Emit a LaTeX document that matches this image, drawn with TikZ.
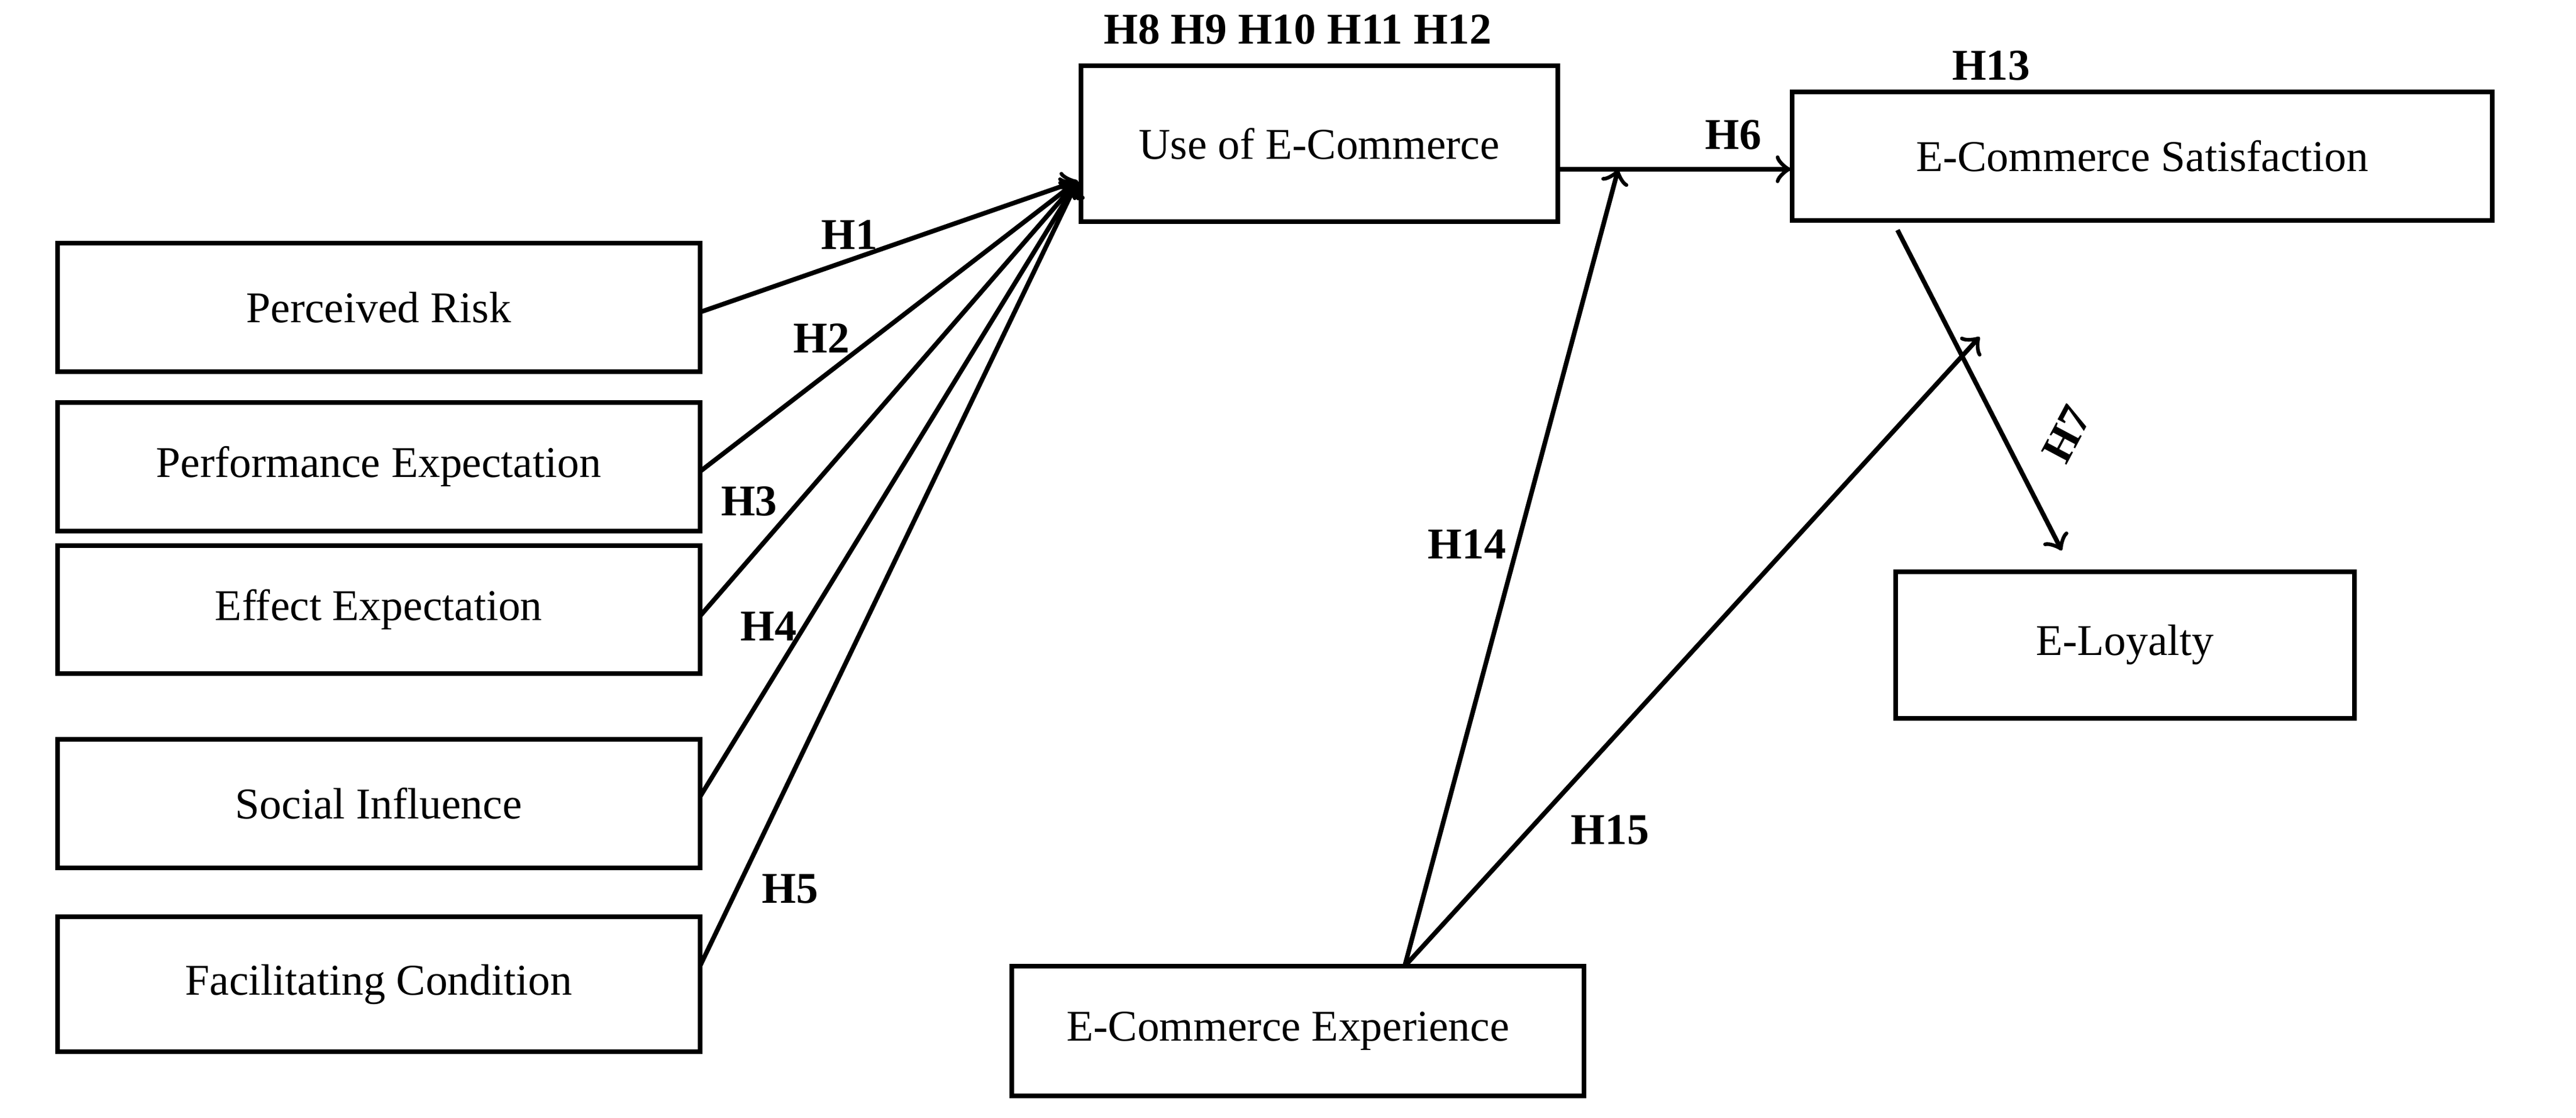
\documentclass[tikz,border=0pt]{standalone}
\usepackage{fontspec}
\setmainfont{Liberation Serif}
\begin{document}
\begin{tikzpicture}[x=0.01cm,y=-0.01cm,
 box/.style={draw,line width=0.8pt,inner sep=0pt,font=\fontsize{7.6}{9}\selectfont},
 lab/.style={font=\fontsize{7.6}{9}\selectfont\bfseries,inner sep=0pt},
 arr/.style={->,line width=0.8pt,>={to}}]
\useasboundingbox (0,0) rectangle (1568,680);
\node[box,minimum width=3.91cm,minimum height=0.78cm] (a) at (230.5,187) {Perceived Risk};
\node[box,minimum width=3.91cm,minimum height=0.78cm] (b) at (230.5,284) {Performance Expectation};
\node[box,minimum width=3.91cm,minimum height=0.78cm] (c) at (230.5,371) {Effect Expectation};
\node[box,minimum width=3.91cm,minimum height=0.78cm] (d) at (230.5,489) {Social Influence};
\node[box,minimum width=3.91cm,minimum height=0.82cm] (e) at (230.5,599) {Facilitating Condition};
\node[box,minimum width=2.90cm,minimum height=0.95cm] (u) at (803,87.5) {Use of E-Commerce};
\node[box,minimum width=4.26cm,minimum height=0.78cm] (s) at (1304,95) {E-Commerce Satisfaction};
\node[box,minimum width=2.79cm,minimum height=0.89cm] (l) at (1293.5,392.5) {E-Loyalty};
\node[box,minimum width=3.48cm,minimum height=0.79cm] (x) at (790,627.5) {\hspace*{-0.12cm}E-Commerce Experience};
\coordinate (ut) at (656,110);
\coordinate (a1) at (426,190);
\coordinate (b1) at (426,287);
\coordinate (c1) at (426,375);
\coordinate (d1) at (426,485);
\coordinate (e1) at (426,588);
\foreach \p in {a1,b1,c1,d1,e1} \draw[arr] (\p) -- (ut);
\coordinate (u1) at (948,103);
\coordinate (s1) at (1090,103);
\draw[arr] (u1) -- (s1);
\coordinate (xo) at (855,588);
\coordinate (m1) at (985,103);
\coordinate (m2) at (1205,205);
\draw[arr] (xo) -- (m1);
\draw[arr] (xo) -- (m2);
\coordinate (sb) at (1155,140);
\coordinate (lt) at (1255,335);
\draw[arr] (sb) -- (lt);
\node[lab] at (517,143) {H1};
\node[lab] at (500,206) {H2};
\node[lab] at (456,305) {H3};
\node[lab] at (468,381) {H4};
\node[lab] at (481,541) {H5};
\node[lab] at (1055,82) {H6};
\node[lab,rotate=62] at (1258,264) {H7};
\node[lab] at (790,18) {H8 H9 H10 H11 H12};
\node[lab] at (1212,40) {H13};
\node[lab] at (893,331) {H14};
\node[lab] at (980,505) {H15};
\end{tikzpicture}
\end{document}
